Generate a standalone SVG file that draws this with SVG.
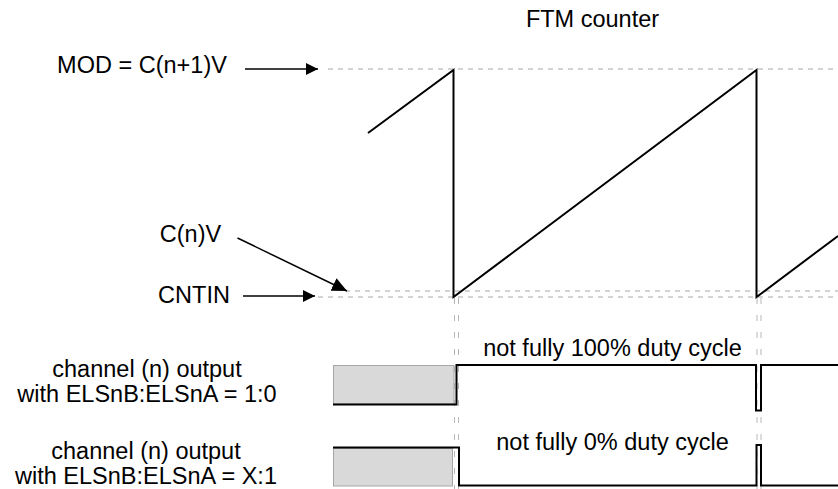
<svg xmlns="http://www.w3.org/2000/svg" width="838" height="489" viewBox="0 0 838 489">
<style>
text{font-family:"Liberation Sans",Arial,Helvetica,sans-serif;font-size:23.5px;fill:#000;text-anchor:middle}
.guide{stroke:#a8a8a8;stroke-width:1;fill:none;stroke-dasharray:5 5}
.vguide{stroke:#b8b8b8;stroke-width:1;fill:none;stroke-dasharray:6 11}
.wave{stroke:#000;stroke-width:2;fill:none;stroke-linejoin:miter}
.shade{fill:#d9d9d9;stroke:#a6a6a6;stroke-width:1}
.conn{stroke:#000;stroke-width:1.5;fill:none}
</style>
<defs>
<marker id="ah" viewBox="0 0 12 12" refX="12" refY="6" markerWidth="12" markerHeight="12" markerUnits="userSpaceOnUse" orient="auto">
<path d="M0,0 L12,6 L0,12 Z" fill="#000"/>
</marker>
<marker id="ah2" viewBox="0 0 15 14" refX="15" refY="7" markerWidth="15" markerHeight="14" markerUnits="userSpaceOnUse" orient="auto">
<path d="M0,0 L15,7 L0,14 Z" fill="#000"/>
</marker>
</defs>
<g id="guides">
<line class="guide" x1="328" y1="69" x2="838" y2="69"/>
<line class="guide" x1="345" y1="291" x2="838" y2="291"/>
<line class="guide" x1="318" y1="297" x2="838" y2="297"/>
<line class="vguide" x1="454.5" y1="298" x2="454.5" y2="489"/>
<line class="vguide" x1="458.5" y1="298" x2="458.5" y2="489"/>
<line class="vguide" x1="757" y1="298" x2="757" y2="489"/>
<line class="vguide" x1="761" y1="298" x2="761" y2="489"/>
</g>
<g id="ftm-counter">
<text x="592.5" y="27">FTM counter</text>
<polyline class="wave" points="368,133 453.5,70 453.5,297 756.5,70 756.5,297 838,236"/>
</g>
<g id="mod-label"><text x="142" y="73">MOD = C(n+1)V</text></g>
<g id="cnv-label"><text x="190.5" y="242">C(n)V</text></g>
<g id="cntin-label"><text x="194" y="302.5">CNTIN</text></g>
<g id="channel-1">
<text x="147" y="377">channel (n) output</text>
<text x="147" y="402">with ELSnB:ELSnA = 1:0</text>
<rect class="shade" x="333.5" y="365.5" width="120.5" height="38.5"/>
<polyline class="wave" points="333,404.5 456.5,404.5 456.5,365 756,365 756,410.5 761,410.5 761,365 838,365"/>
<text x="612.5" y="356">not fully 100% duty cycle</text>
</g>
<g id="channel-2">
<text x="146" y="458.5">channel (n) output</text>
<text x="146" y="483.5">with ELSnB:ELSnA = X:1</text>
<rect class="shade" x="333.5" y="448.5" width="119" height="37.5"/>
<polyline class="wave" points="333,447.5 459,447.5 459,485.5 756.5,485.5 756.5,445 761,445 761,485.5 838,485.5"/>
<text x="612.5" y="449.5">not fully 0% duty cycle</text>
</g>
<g id="connectors">
<line class="conn" x1="245" y1="69" x2="318" y2="69" marker-end="url(#ah)"/>
<line class="conn" x1="237.5" y1="238" x2="347" y2="291" marker-end="url(#ah2)"/>
<line class="conn" x1="243" y1="296" x2="315" y2="296" marker-end="url(#ah)"/>
</g>
</svg>
